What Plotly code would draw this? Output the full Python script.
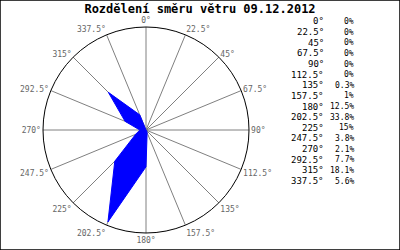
import plotly.graph_objects as go

directions = [0, 22.5, 45, 67.5, 90, 112.5, 135, 157.5, 180, 202.5, 225, 247.5, 270, 292.5, 315, 337.5]
dir_labels = ["0°", "22.5°", "45°", "67.5°", "90°", "112.5°", "135°", "157.5°",
              "180°", "202.5°", "225°", "247.5°", "270°", "292.5°", "315°", "337.5°"]
percent = [0, 0, 0, 0, 0, 0, 0.3, 1, 12.5, 33.8, 15, 3.8, 2.1, 7.7, 18.1, 5.6]
percent_labels = ["0%", "0%", "0%", "0%", "0%", "0%", "0.3%", "1%", "12.5%", "33.8%",
                  "15%", "3.8%", "2.1%", "7.7%", "18.1%", "5.6%"]
title = "Rozdělení směru větru 09.12.2012"

fig = go.Figure()
fig.add_trace(go.Scatterpolar(
    r=percent + [percent[0]],
    theta=directions + [directions[0]],
    mode="lines",
    fill="toself",
    fillcolor="#0000ff",
    line=dict(color="#0000ff", width=1),
    hoverinfo="skip",
    showlegend=False,
))

mono = "DejaVu Sans Mono"
fig.update_layout(
    width=400, height=250,
    margin=dict(l=0, r=0, t=0, b=0),
    paper_bgcolor="white",
    plot_bgcolor="white",
    title=dict(text="<b>" + title + "</b>", x=0.5, xanchor="center", y=1 - 8.5 / 250, yanchor="middle",
               font=dict(family=mono, size=12, color="black")),
    polar=dict(
        domain=dict(x=[0.1075, 0.6225], y=[0.068, 0.892]),
        bgcolor="white",
        radialaxis=dict(range=[0, 35], visible=False, showgrid=False),
        angularaxis=dict(
            direction="clockwise", rotation=90,
            tickmode="array", tickvals=directions, ticktext=dir_labels,
            showgrid=True, gridcolor="#808080", gridwidth=1,
            showline=True, linecolor="black", linewidth=1,
            ticks="", tickfont=dict(family=mono, size=8, color="#666666"),
        ),
    ),
    shapes=[dict(type="rect", xref="paper", yref="paper", x0=0, y0=0, x1=1, y1=1,
                 line=dict(color="black", width=1.5))],
)

y0 = 21.5
step = (181 - 21.5) / 15
for i, (d, p) in enumerate(zip(dir_labels, percent_labels)):
    y = 1 - (y0 + i * step) / 250
    fig.add_annotation(text=d, x=326 / 400, y=y, xref="paper", yref="paper",
                       xanchor="right", yanchor="middle", showarrow=False,
                       font=dict(family=mono, size=9, color="black"))
    fig.add_annotation(text=p, x=356 / 400, y=y, xref="paper", yref="paper",
                       xanchor="right", yanchor="middle", showarrow=False,
                       font=dict(family=mono, size=8, color="black"))

fig.write_html("out.html")
